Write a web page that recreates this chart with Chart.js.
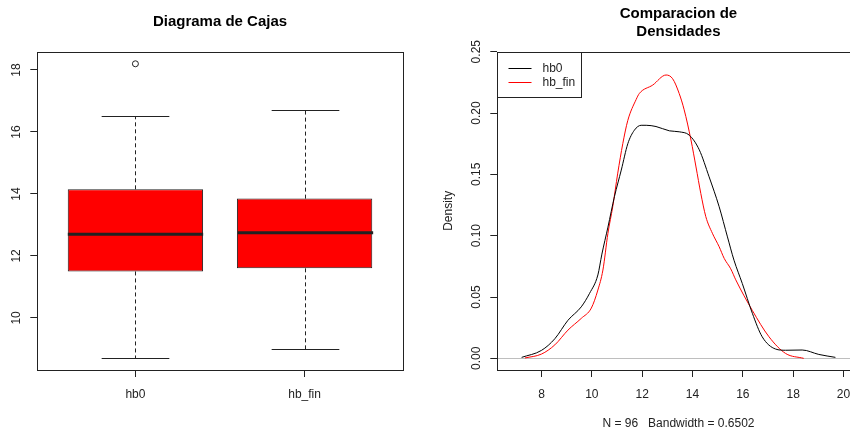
<!DOCTYPE html>
<html>
<head>
<meta charset="utf-8">
<script src="https://cdn.jsdelivr.net/npm/chart.js@4.4.1/dist/chart.umd.min.js"></script>
<style>
  body { margin: 0; background: #fff; overflow: hidden; }
  #wrap { position: relative; width: 850px; height: 430px; overflow: hidden; }
  #boxes { position: absolute; left: 0; top: 0; }
  #dens { position: absolute; left: 425px; top: 0; }
</style>
</head>
<body>
<div id="wrap">
  <canvas id="boxes" width="425" height="430"></canvas>
  <canvas id="dens" width="436" height="430"></canvas>
</div>
<script>
"use strict"

// boxplot summaries (whiskers, quartiles, median) per variable
const boxLabels = ["hb0", "hb_fin"];
const whiskerLow = [8.7, 9.0];
const q1 = [11.5, 11.6];
const medians = [12.7, 12.75];
const q3 = [14.15, 13.85];
const whiskerHigh = [16.5, 16.7];
const outliers = [[18.2], []];
const boxTicks = [10, 12, 14, 16, 18];

// kernel density estimates
const hb0X = [7.21, 8.0, 8.53, 9.05, 9.58, 9.91, 10.24, 10.4, 10.64, 10.9, 11.17, 11.43, 11.69, 11.96, 12.16,
  12.55, 13.08, 13.47, 13.87, 14.27, 14.66, 15.06, 15.39, 15.65, 15.98, 16.38, 16.77, 17.3, 17.7, 18.36, 19.02, 19.68];
const hb0Y = [0.0008, 0.0065, 0.016, 0.031, 0.042, 0.053, 0.068, 0.085, 0.107, 0.132, 0.1535, 0.175, 0.186, 0.190, 0.190,
  0.189, 0.1855, 0.1847, 0.182, 0.170, 0.148, 0.1236, 0.099, 0.080, 0.061, 0.0367, 0.0176, 0.0076, 0.0066, 0.0068, 0.0032, 0.0008];
const finX = [7.34, 8.0, 8.53, 9.05, 9.58, 9.98, 10.24, 10.44, 10.64, 10.83, 11.03, 11.23, 11.43, 11.76, 11.89, 12.42,
  12.95, 13.21, 13.47, 13.67, 13.94, 14.14, 14.33, 14.53, 14.79, 15.06, 15.26, 15.52, 15.72, 16.38, 17.04, 17.7, 18.42];
const finY = [0.0003, 0.0035, 0.011, 0.023, 0.0326, 0.041, 0.0557, 0.072, 0.102, 0.1236, 0.151, 0.175, 0.194, 0.211, 0.216, 0.2228,
  0.231, 0.228, 0.216, 0.2026, 0.178, 0.156, 0.1345, 0.1155, 0.102, 0.091, 0.0815, 0.073, 0.064, 0.039, 0.0176, 0.004, 0];
const densXTicks = [8, 10, 12, 14, 16, 18, 20];
const densYTicks = [0, 0.05, 0.10, 0.15, 0.20, 0.25];
const densSubtitle = "N = 96   Bandwidth = 0.6502";

const FONT = '"Liberation Sans", Arial, sans-serif';
const ink = "#222";
Chart.defaults.font.family = FONT;
Chart.defaults.font.size = 12;
Chart.defaults.color = ink;

function seg(ctx, x1, y1, x2, y2) {
    ctx.beginPath();
    ctx.moveTo(x1, y1);
    ctx.lineTo(x2, y2);
    ctx.stroke();
}

// box all the way round the plot region
const frame = {
    id: "frame",
    afterDraw(chart) {
        const a = chart.chartArea, ctx = chart.ctx;
        ctx.save();
        ctx.strokeStyle = ink;
        ctx.lineWidth = 1;
        const l = Math.round(a.left) + 0.5, t = Math.round(a.top) + 0.5;
        ctx.strokeRect(l, t, Math.round(a.right) - Math.round(a.left), Math.round(a.bottom) - Math.round(a.top));
        ctx.restore();
    }
};

// whiskers, caps and median bar on top of the floating bars
const whiskers = {
    id: "whiskers",
    afterDatasetsDraw(chart) {
        const xs = chart.scales.x, ys = chart.scales.y, ctx = chart.ctx;
        const bars = chart.getDatasetMeta(0).data;
        ctx.save();
        ctx.strokeStyle = ink;
        boxLabels.forEach((lab, i) => {
            const cx = Math.round(xs.getPixelForValue(i + 1)) + 0.5;
            const half = bars[i].width / 2;
            const yHi = Math.round(ys.getPixelForValue(whiskerHigh[i])) + 0.5;
            const yLo = Math.round(ys.getPixelForValue(whiskerLow[i])) + 0.5;
            ctx.lineWidth = 1;
            ctx.setLineDash([4, 3]);
            seg(ctx, cx, ys.getPixelForValue(q3[i]), cx, yHi);
            seg(ctx, cx, ys.getPixelForValue(q1[i]), cx, yLo);
            ctx.setLineDash([]);
            seg(ctx, cx - half / 2, yHi, cx + half / 2, yHi);
            seg(ctx, cx - half / 2, yLo, cx + half / 2, yLo);
            ctx.lineWidth = 3;
            const ym = ys.getPixelForValue(medians[i]);
            seg(ctx, cx - half, ym, cx + half, ym);
        });
        ctx.restore();
    }
};

new Chart(document.getElementById("boxes"), {
    type: "bar",
    data: {
        datasets: [{
            data: boxLabels.map((l, i) => ({x: i + 1, y: [q1[i], q3[i]]})),
            backgroundColor: "#ff0000",
            borderColor: ink,
            borderWidth: 1,
            borderSkipped: false,
            barPercentage: 1,
            categoryPercentage: 0.8
        }, {
            type: "scatter",
            data: outliers.flatMap((vals, i) => vals.map(v => ({x: i + 1, y: v}))),
            pointStyle: "circle",
            pointRadius: 3,
            borderColor: ink,
            backgroundColor: "rgba(0,0,0,0)",
            borderWidth: 1
        }]
    },
    options: {
        responsive: false,
        animation: false,
        layout: {padding: {left: 0, right: 22.3, top: 0, bottom: 0}},
        plugins: {
            legend: {display: false},
            tooltip: {enabled: false},
            title: {
                display: true,
                fullSize: false,
                text: "Diagrama de Cajas",
                color: "#000",
                font: {size: 15, weight: "bold", lineHeight: 1.18},
                padding: {top: 13.2, bottom: 20.8}
            }
        },
        scales: {
            x: {
                type: "linear",
                min: 0.42,
                max: 2.58,
                offset: false,
                afterBuildTicks: s => { s.ticks = boxLabels.map((l, i) => ({value: i + 1})); },
                afterFit: s => { s.height = 60; },
                ticks: {callback: v => boxLabels[v - 1], padding: 10.8, autoSkip: false, maxRotation: 0},
                grid: {drawOnChartArea: false, offset: false, tickLength: 7, color: ink},
                border: {display: false}
            },
            y: {
                min: 8.32,
                max: 18.59,
                afterBuildTicks: s => { s.ticks = boxTicks.map(v => ({value: v})); },
                afterFit: s => { s.width = 37.3; },
                ticks: {minRotation: 90, maxRotation: 90, crossAlign: "center", padding: 6.9},
                grid: {drawOnChartArea: false, tickLength: 7, color: ink},
                border: {display: false}
            }
        }
    },
    plugins: [frame, whiskers]
});

// grey baseline at density zero
const zeroLine = {
    id: "zeroLine",
    beforeDatasetsDraw(chart) {
        const a = chart.chartArea, ctx = chart.ctx;
        const y0 = Math.round(chart.scales.y.getPixelForValue(0)) + 0.5;
        ctx.save();
        ctx.strokeStyle = "#bebebe";
        ctx.lineWidth = 1;
        seg(ctx, a.left, y0, a.right, y0);
        ctx.restore();
    }
};

// boxed legend in the top-left corner of the plot
const densLegend = {
    id: "densLegend",
    afterDraw(chart) {
        const a = chart.chartArea, ctx = chart.ctx;
        const sets = chart.data.datasets;
        ctx.save();
        ctx.font = "12px " + FONT;
        const textW = Math.max(...sets.map(d => ctx.measureText(d.label).width));
        const left = Math.round(a.left) + 0.5, top = Math.round(a.top) + 0.5;
        const w = Math.round(45 + textW + 6);
        const h = 45;
        ctx.fillStyle = "#fff";
        ctx.fillRect(left, top, w, h);
        ctx.strokeStyle = ink;
        ctx.lineWidth = 1;
        ctx.strokeRect(left, top, w, h);
        ctx.textBaseline = "middle";
        sets.forEach((d, i) => {
            const yy = Math.round(top + 15 + i * 14.4) + 0.5;
            ctx.strokeStyle = d.borderColor;
            seg(ctx, left + 11, yy, left + 34, yy);
            ctx.fillStyle = ink;
            ctx.fillText(d.label, left + 45, yy);
        });
        ctx.restore();
    }
};

new Chart(document.getElementById("dens"), {
    type: "scatter",
    data: {
        datasets: [{
            label: "hb0",
            data: hb0X.map((x, i) => ({x: x, y: hb0Y[i]})),
            borderColor: "#000",
            borderWidth: 1,
            showLine: true,
            pointRadius: 0,
            cubicInterpolationMode: "monotone"
        }, {
            label: "hb_fin",
            data: finX.map((x, i) => ({x: x, y: finY[i]})),
            borderColor: "#ff0000",
            borderWidth: 1,
            showLine: true,
            pointRadius: 0,
            cubicInterpolationMode: "monotone"
        }]
    },
    options: {
        responsive: false,
        animation: false,
        layout: {padding: 0},
        plugins: {
            legend: {display: false},
            tooltip: {enabled: false},
            title: {
                display: true,
                fullSize: false,
                text: ["Comparacion de", "Densidades"],
                color: "#000",
                font: {size: 15, weight: "bold", lineHeight: 1.18},
                padding: {top: 5.15, bottom: 11.15}
            }
        },
        scales: {
            x: {
                type: "linear",
                min: 6.243,
                max: 20.64,
                afterBuildTicks: s => { s.ticks = densXTicks.map(v => ({value: v})); },
                afterFit: s => { s.height = 60; },
                ticks: {callback: v => String(v), padding: 10.8, autoSkip: false, maxRotation: 0},
                grid: {drawOnChartArea: false, tickLength: 7, color: ink},
                border: {display: false},
                title: {display: true, text: densSubtitle, font: {lineHeight: 1}, padding: 0}
            },
            y: {
                min: -0.0095,
                max: 0.25,
                afterBuildTicks: s => { s.ticks = densYTicks.map(v => ({value: v})); },
                afterFit: s => { s.width = 72.3; },
                ticks: {callback: v => v.toFixed(2), minRotation: 90, maxRotation: 90, crossAlign: "center", padding: 2.3},
                grid: {drawOnChartArea: false, tickLength: 7, color: ink},
                border: {display: false},
                title: {display: true, text: "Density", font: {lineHeight: 1}, padding: {top: 17.3, bottom: 0}}
            }
        }
    },
    plugins: [zeroLine, frame, densLegend]
});
</script>
</body>
</html>
